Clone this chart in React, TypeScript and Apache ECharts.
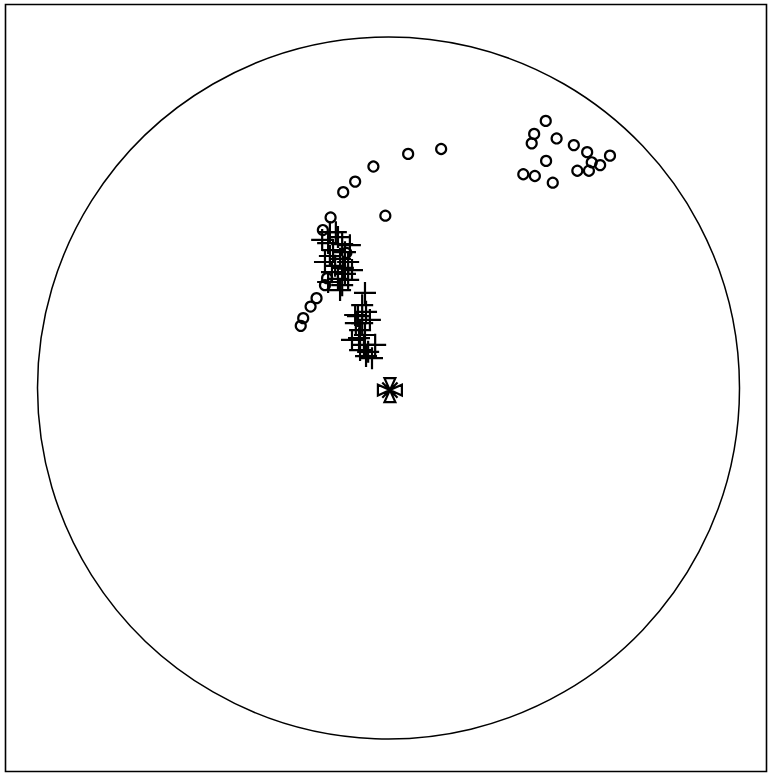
import React, { useEffect, useRef } from "react";
import * as echarts from "echarts";

// Open circles: projected positions (unit circle = primitive)
const circleX = [0.150, 0.056, -0.043, -0.095, -0.129, -0.165, -0.009, -0.187, -0.120, -0.175, -0.181, -0.205, -0.222, -0.243, -0.250,
  0.448, 0.415, 0.408, 0.479, 0.528, 0.566, 0.631, 0.579, 0.603, 0.449, 0.384, 0.417, 0.468, 0.538, 0.571];
const circleY = [0.681, 0.667, 0.631, 0.588, 0.558, 0.486, 0.491, 0.450, 0.385, 0.313, 0.293, 0.256, 0.232, 0.199, 0.177,
  0.761, 0.724, 0.697, 0.711, 0.692, 0.672, 0.662, 0.643, 0.635, 0.647, 0.609, 0.604, 0.585, 0.619, 0.619];

// Plus markers
const plusX = [-0.167, -0.144, -0.172, -0.132, -0.158, -0.124, -0.167, -0.138, -0.115, -0.152, -0.130, -0.161, -0.124, -0.144, -0.132, -0.138,
  -0.189, -0.110, -0.181, -0.104, -0.172, -0.115, -0.150,
  -0.067, -0.075, -0.064, -0.087, -0.075, -0.093, -0.081, -0.084, -0.070, -0.081, -0.058, -0.047, -0.064,
  -0.095, -0.053, -0.104, -0.038, -0.067];
const plusY = [0.444, 0.430, 0.413, 0.410, 0.393, 0.387, 0.376, 0.368, 0.359, 0.348, 0.342, 0.330, 0.325, 0.311, 0.293, 0.279,
  0.422, 0.407, 0.359, 0.336, 0.302, 0.308, 0.444,
  0.271, 0.236, 0.217, 0.205, 0.185, 0.185, 0.165, 0.142, 0.123, 0.108, 0.103, 0.085, 0.091,
  0.208, 0.194, 0.137, 0.123, 0.151];

// Mean marker
const meanX = [0.004];
const meanY = [-0.006];

const zip = (xs: number[], ys: number[]) => xs.map((x, i) => [x, ys[i]]);

export default function App() {
  const ref = useRef<HTMLDivElement>(null);
  useEffect(() => {
    document.body.style.margin = "0";
    const chart = echarts.init(ref.current!, null, { renderer: "svg" });
    chart.setOption({
      animation: false,
      backgroundColor: "#fff",
      polar: { center: [388.5, 388], radius: 351 },
      angleAxis: {
        type: "value",
        min: 0,
        max: 360,
        axisLine: { show: true, lineStyle: { color: "#000", width: 1.5 } },
        axisTick: { show: false },
        axisLabel: { show: false },
        splitLine: { show: false },
      },
      radiusAxis: { type: "value", min: 0, max: 1, show: false, splitLine: { show: false }, axisLine: { show: false } },
      grid: { left: 37.5, top: 37, width: 702, height: 702 },
      xAxis: { type: "value", min: -1, max: 1, show: false },
      yAxis: { type: "value", min: -1, max: 1, show: false },
      graphic: [
        {
          type: "rect",
          shape: { x: 5.5, y: 4.5, width: 761, height: 767 },
          style: { fill: "none", stroke: "#000", lineWidth: 1.6 },
          silent: true,
        },
      ],
      series: [
        {
          type: "scatter",
          data: zip(circleX, circleY),
          symbol: "circle",
          symbolSize: 10,
          itemStyle: { color: "transparent", borderColor: "#000", borderWidth: 2.2, opacity: 1 },
        },
        {
          type: "scatter",
          data: zip(plusX, plusY),
          symbol: "path://M0,10L20,10M10,0L10,20",
          symbolSize: 22,
          itemStyle: { color: "transparent", borderColor: "#000", borderWidth: 2.2, opacity: 1 },
        },
        {
          type: "scatter",
          data: zip(meanX, meanY),
          symbol:
            "path://M6,0L16,0L11,11ZM6,22L16,22L11,11ZM0,6L0,16L11,11ZM22,6L22,16L11,11ZM4,4L18,18M18,4L4,18",
          symbolSize: 24,
          itemStyle: { color: "transparent", borderColor: "#000", borderWidth: 2.2, opacity: 1 },
        },
      ],
    });
    return () => chart.dispose();
  }, []);
  return <div ref={ref} style={{ width: 769, height: 774 }} />;
}
